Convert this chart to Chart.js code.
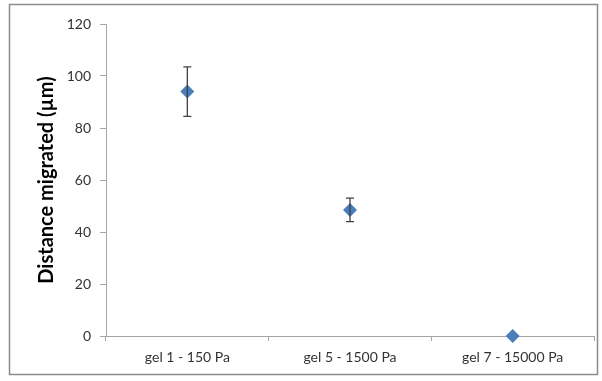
<!DOCTYPE html>
<html>
<head>
<meta charset="utf-8">
<script src="https://cdn.jsdelivr.net/npm/chart.js@4"></script>
<style>
  body { margin: 0; background: #fff; }
  #wrap { width: 602px; height: 381px; }
</style>
</head>
<body>
<div id="wrap"><canvas id="chart" width="602" height="381"></canvas></div>
<script>
const categories = ['gel 1 - 150 Pa', 'gel 5 - 1500 Pa', 'gel 7 - 15000 Pa']
const distance = [94, 48.5, 0]
const errorBars = [9.5, 4.5, 0]
const yTicks = [0, 20, 40, 60, 80, 100, 120]

// frame around the whole figure + error bars drawn through the scales
const framePlugin = {
  id: 'frame',
  beforeDraw(chart) {
    const c = chart.ctx
    c.save()
    c.fillStyle = '#fff'
    c.fillRect(0, 0, chart.width, chart.height)
    c.strokeStyle = '#8c8c8c'
    c.lineWidth = 1.5
    c.strokeRect(9.5, 4.5, 588, 370)
    c.restore()
  }
}

const errorBarPlugin = {
  id: 'errorBars',
  afterDatasetsDraw(chart) {
    const c = chart.ctx
    const x = chart.scales.x
    const y = chart.scales.y
    c.save()
    c.strokeStyle = '#404040'
    c.lineWidth = 1.3
    distance.forEach((v, i) => {
      const e = errorBars[i]
      if (!e) return
      const px = x.getPixelForValue(i)
      const top = y.getPixelForValue(v + e)
      const bot = y.getPixelForValue(v - e)
      c.beginPath()
      c.moveTo(px, top); c.lineTo(px, bot)
      c.moveTo(px - 4, top); c.lineTo(px + 4, top)
      c.moveTo(px - 4, bot); c.lineTo(px + 4, bot)
      c.stroke()
    })
    c.restore()
  }
}

const ctx = document.getElementById('chart')
new Chart(ctx, {
  type: 'line',
  data: {
    labels: categories,
    datasets: [{
      data: distance,
      showLine: false,
      pointStyle: 'rectRot',
      pointRadius: 7,
      pointHoverRadius: 7,
      backgroundColor: '#4a7ebb',
      borderColor: '#4a7ebb',
      borderWidth: 0,
      clip: false
    }]
  },
  plugins: [framePlugin, errorBarPlugin],
  options: {
    responsive: false,
    animation: false,
    layout: { padding: { top: 24, right: 8, left: 0, bottom: 0 } },
    plugins: {
      legend: { display: false },
      tooltip: { enabled: false }
    },
    scales: {
      x: {
        offset: true,
        grid: {
          offset: true,
          drawOnChartArea: false,
          drawTicks: true,
          tickLength: 5,
          color: '#a6a6a6'
        },
        border: { color: '#a6a6a6', width: 1 },
        ticks: {
          color: '#333',
          padding: 8,
          maxRotation: 0,
          font: { family: 'Lato', size: 14 }
        },
        afterFit(scale) { scale.height = 45 }
      },
      y: {
        min: 0,
        max: 120,
        afterBuildTicks(scale) { scale.ticks = yTicks.map(v => ({ value: v })) },
        grid: {
          drawOnChartArea: false,
          drawTicks: true,
          tickLength: 6,
          color: '#a6a6a6'
        },
        border: { color: '#a6a6a6', width: 1 },
        ticks: {
          color: '#333',
          padding: 9,
          font: { family: 'Lato', size: 14 }
        },
        title: {
          display: true,
          text: 'Distance migrated (µm)',
          color: '#000',
          padding: { top: 35, bottom: 0 },
          font: { family: 'Lato', size: 20, weight: 'bold' }
        },
        afterFit(scale) { scale.width = 106 }
      }
    }
  }
})
</script>
</body>
</html>
